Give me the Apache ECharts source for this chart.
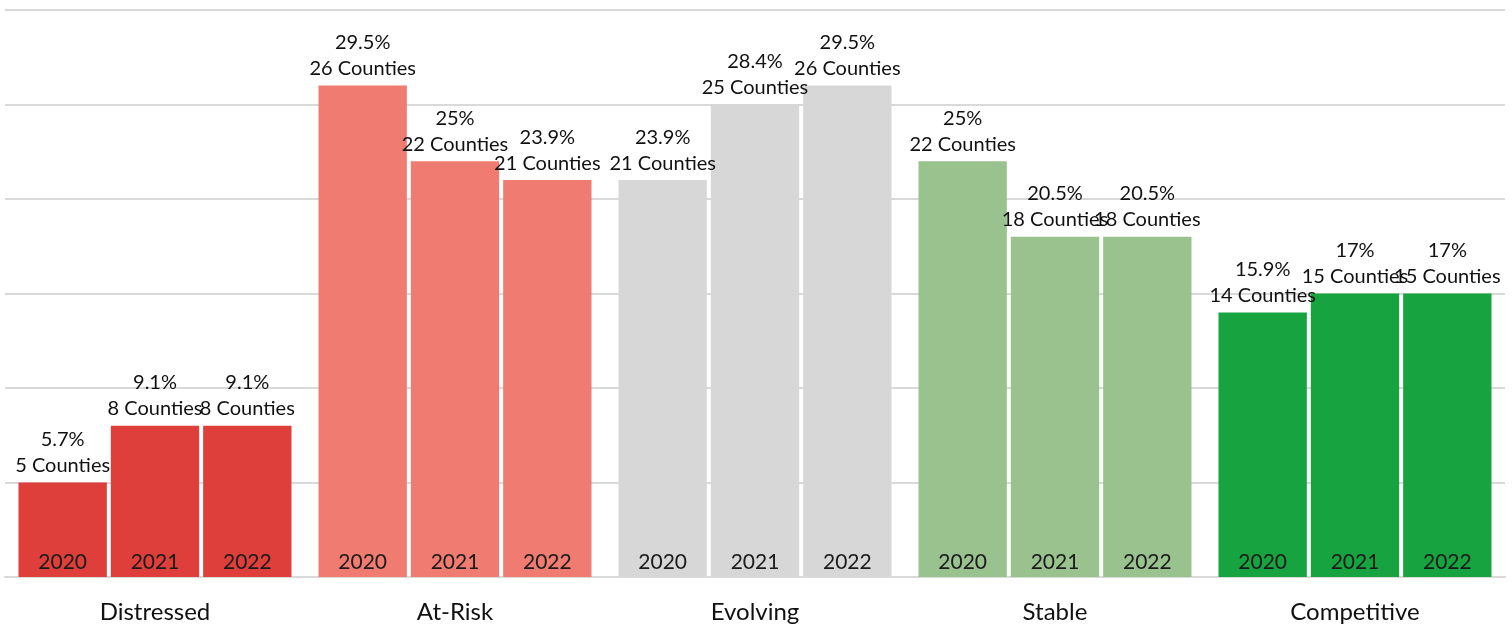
<!DOCTYPE html>
<html>
<head>
<meta charset="utf-8">
<style>
  html, body { margin: 0; padding: 0; background: #fff; }
  #chart { width: 1512px; height: 624px; }
</style>
<script src="https://cdn.jsdelivr.net/npm/echarts@6/dist/echarts.min.js"></script>
</head>
<body>
<div id="chart"></div>
<script>
// categories and years
const categories = ['Distressed', 'At-Risk', 'Evolving', 'Stable', 'Competitive'];
const years = ['2020', '2021', '2022'];

// county counts per year (one value per category)
const counties2020 = [5, 26, 21, 22, 14];
const counties2021 = [8, 22, 25, 18, 15];
const counties2022 = [8, 21, 26, 18, 15];

// share of counties, %
const pct2020 = [5.7, 29.5, 23.9, 25, 15.9];
const pct2021 = [9.1, 25, 28.4, 20.5, 17];
const pct2022 = [9.1, 23.9, 29.5, 20.5, 17];

const countsByYear = [counties2020, counties2021, counties2022];
const pctByYear = [pct2020, pct2021, pct2022];

const catColors = ['#DE3F3B', '#F07C71', '#D7D7D7', '#99C28F', '#17A340'];
const font = 'Lato';

let series = [];
years.forEach((yr, i) => {
    // zero-height bar carrying the year text at the bottom of the column
    series.push({
        name: yr + ' label',
        type: 'bar',
        stack: 's' + yr,
        z: 5,
        data: categories.map(() => 0),
        itemStyle: { color: 'transparent' },
        label: {
            show: true,
            position: 'top',
            distance: 4,
            formatter: yr,
            fontFamily: font,
            fontSize: 21,
            color: '#1b1b1b'
        },
        silent: true
    });
    series.push({
        name: yr,
        type: 'bar',
        stack: 's' + yr,
        data: countsByYear[i],
        itemStyle: {
            color: (p) => catColors[p.dataIndex]
        },
        label: {
            show: true,
            position: 'top',
            distance: 4,
            fontFamily: font,
            fontSize: 20,
            lineHeight: 26,
            color: '#111',
            formatter: (p) => pctByYear[i][p.dataIndex] + '%\n' + p.value + ' Counties'
        }
    });
});

let myChart = echarts.init(document.getElementById('chart'));
let option = {
    animation: false,
    grid: {
        left: 5,
        right: 7,
        top: 10,
        bottom: 47,
        containLabel: false
    },
    xAxis: {
        type: 'category',
        data: categories,
        axisTick: { show: false },
        axisLine: { lineStyle: { color: '#D9D9D9', width: 2 } },
        axisLabel: {
            fontFamily: font,
            fontSize: 24,
            color: '#111',
            margin: 23
        }
    },
    yAxis: {
        type: 'value',
        min: 0,
        max: 30,
        interval: 5,
        axisLabel: { show: false },
        axisLine: { show: false },
        axisTick: { show: false },
        splitLine: { lineStyle: { color: '#D9D9D9', width: 2 } }
    },
    series: series.map(s => Object.assign(s, { barCategoryGap: '9%', barGap: '4.5%' }))
};
myChart.setOption(option);
</script>
</body>
</html>
